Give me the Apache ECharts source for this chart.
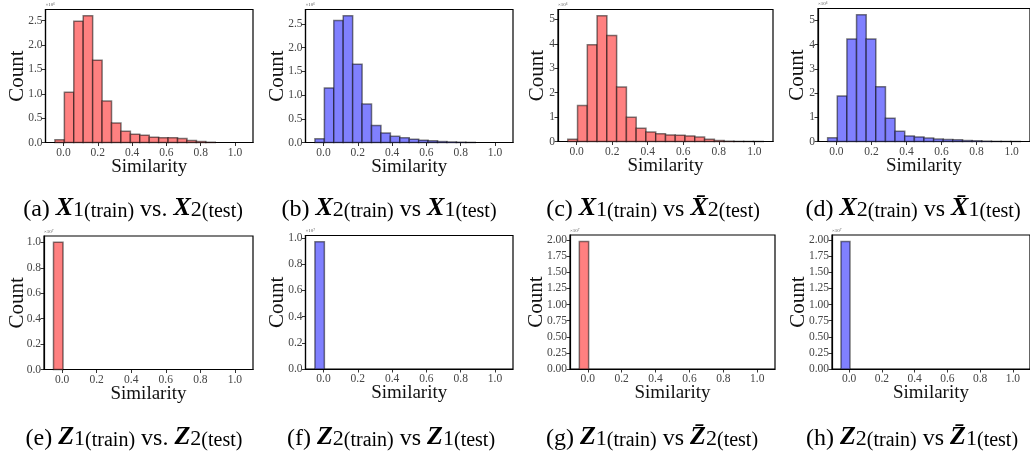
<!DOCTYPE html>
<html>
<head>
<meta charset="utf-8">
<script src="https://cdn.jsdelivr.net/npm/echarts@6/dist/echarts.min.js"></script>
<style>html,body{margin:0;padding:0;background:#fff}#c{width:1030px;height:452px}</style>
</head>
<body>
<div id="c"></div>
<script>
// 20 histogram bins over [-0.05, 1.05]
const binEdges = [-0.05,0.005,0.06,0.115,0.17,0.225,0.28,0.335,0.39,0.445,0.5,0.555,0.61,0.665,0.72,0.775,0.83,0.885,0.94,0.995,1.05];
const countsA = [0.055,1.03,2.49,2.60,1.69,0.85,0.40,0.23,0.17,0.15,0.11,0.10,0.10,0.08,0.04,0.02,0.005,0,0,0];
const countsB = [0.077,1.15,2.57,2.67,1.65,0.81,0.36,0.20,0.13,0.10,0.07,0.05,0.035,0.02,0.012,0.006,0.002,0,0,0];
const countsC = [0.09,1.47,3.96,5.15,4.34,2.23,0.99,0.54,0.39,0.32,0.27,0.26,0.23,0.18,0.09,0.04,0.013,0.005,0.003,0.002];
const countsD = [0.15,1.88,4.23,5.23,4.23,2.26,0.96,0.42,0.23,0.19,0.14,0.10,0.08,0.07,0.04,0.03,0.015,0.005,0.003,0.002];
const countsE = [1.0,0,0,0,0,0,0,0,0,0,0,0,0,0,0,0,0,0,0,0];
const countsF = [0.97,0,0,0,0,0,0,0,0,0,0,0,0,0,0,0,0,0,0,0];
const countsG = [1.98,0,0,0,0,0,0,0,0,0,0,0,0,0,0,0,0,0,0,0];
const countsH = [1.98,0,0,0,0,0,0,0,0,0,0,0,0,0,0,0,0,0,0,0];

const xTicks = [0,0.2,0.4,0.6,0.8,1.0];
const yTicksAB = [0,0.5,1.0,1.5,2.0,2.5];
const yTicksCD = [0,1,2,3,4,5];
const yTicksEF = [0,0.2,0.4,0.6,0.8,1.0];
const yTicksGH = [0,0.25,0.5,0.75,1.0,1.25,1.5,1.75,2.0];

const RED = '#ff8080', BLUE = '#8080ff';
const SERIF = "'Liberation Serif', 'DejaVu Serif', serif";

const panels = [
  {counts:countsA, color:RED,  yTicks:yTicksAB, dec:1, exp:'×10⁶', g:{left:45.5,top:9.5,width:207.5,height:133}, countX:17, cap:['a','X','1','vs.','X','2'], capX:133, capY:208},
  {counts:countsB, color:BLUE, yTicks:yTicksAB, dec:1, exp:'×10⁶', g:{left:305.5,top:9.5,width:207.5,height:133}, countX:277, cap:['b','X','2','vs','X','1'], capX:389, capY:208},
  {counts:countsC, color:RED,  yTicks:yTicksCD, dec:0, exp:'×10⁶', g:{left:558,top:9.5,width:215,height:132}, countX:537, cap:['c','X','1','vs','X\u0304','2'], capX:653, capY:208},
  {counts:countsD, color:BLUE, yTicks:yTicksCD, dec:0, exp:'×10⁶', g:{left:818,top:8.5,width:221,height:133}, countX:797, cap:['d','X','2','vs','X\u0304','1'], capX:913, capY:208},
  {counts:countsE, color:RED,  yTicks:yTicksEF, dec:1, exp:'×10⁷', g:{left:44,top:236,width:209,height:133.5}, countX:17, cap:['e','Z','1','vs.','Z','2'], capX:134, capY:437},
  {counts:countsF, color:BLUE, yTicks:yTicksEF, dec:1, exp:'×10⁷', g:{left:305.5,top:235.5,width:207.5,height:133.5}, countX:277, cap:['f','Z','2','vs','Z','1'], capX:391, capY:437},
  {counts:countsG, color:RED,  yTicks:yTicksGH, dec:2, exp:'×10⁷', g:{left:570,top:235,width:205,height:134}, countX:536, cap:['g','Z','1','vs','Z\u0304','2'], capX:652, capY:437},
  {counts:countsH, color:BLUE, yTicks:yTicksGH, dec:2, exp:'×10⁷', g:{left:832,top:235,width:202,height:134}, countX:798, cap:['h','Z','2','vs','Z\u0304','1'], capX:912, capY:437}
];

const grid = [], xAxis = [], yAxis = [], series = [], graphic = [];
const tickLabel = {fontFamily:SERIF, fontSize:11.5, color:'#444'};

panels.forEach((p, i) => {
  grid.push(Object.assign({show:true, borderColor:'#000', borderWidth:1.2, backgroundColor:'transparent'}, p.g));
  xAxis.push({
    type:'value', gridIndex:i, min:-0.105, max:1.105,
    name:'Similarity', nameLocation:'middle', nameGap:15, nameMoveOverlap:false,
    nameTextStyle:{fontFamily:SERIF, fontSize:19, color:'#111'},
    axisLine:{show:true, onZero:false, lineStyle:{color:'#000', width:1.2}},
    axisTick:{show:true, inside:false, length:3.5, lineStyle:{color:'#000', width:0.8}, customValues:xTicks},
    axisLabel:Object.assign({margin:4, customValues:xTicks, formatter:v=>v.toFixed(1)}, tickLabel),
    splitLine:{show:false}
  });
  const ymax = Math.max(...p.counts) * 1.05;
  yAxis.push({
    type:'value', gridIndex:i, min:0, max:ymax,
    name:'Count', nameLocation:'middle', nameGap:p.g.left - p.countX - 11, nameRotate:90, nameMoveOverlap:false,
    nameTextStyle:{fontFamily:SERIF, fontSize:21, color:'#111'},
    axisLine:{show:true, onZero:false, lineStyle:{color:'#000', width:1.2}},
    axisTick:{show:true, inside:false, length:3.5, lineStyle:{color:'#000', width:0.8}, customValues:p.yTicks},
    axisLabel:Object.assign({margin:3, customValues:p.yTicks, formatter:v=>v.toFixed(p.dec)}, tickLabel),
    splitLine:{show:false}
  });
  const data = p.counts.map((c, k) => [binEdges[k], binEdges[k+1], c]);
  series.push({
    type:'custom', xAxisIndex:i, yAxisIndex:i, data:data,
    encode:{x:[0,1], y:2},
    clip:false,
    renderItem:(params, api) => {
      const c = api.value(2);
      if (!(c > 0)) return null;
      const p0 = api.coord([api.value(0), c]);
      const p1 = api.coord([api.value(1), 0]);
      return {type:'rect', shape:{x:p0[0], y:p0[1], width:p1[0]-p0[0], height:p1[1]-p0[1]},
        style:{fill:p.color, stroke:'rgba(0,0,0,0.5)', lineWidth:1.5}};
    }
  });
  graphic.push({type:'text', left:p.g.left, top:p.g.top - 7, style:{text:p.exp, font:'5px '+SERIF, fill:'#555'}});
  const c = p.cap;
  graphic.push({
    type:'text', x:p.capX, y:p.capY,
    style:{
      text:'{n|('+c[0]+') }{m|'+c[1]+'}{s|'+c[2]+'}{t|(train)}{n| '+c[3]+' }{m|'+c[4]+'}{s|'+c[5]+'}{t|(test)}',
      align:'center', verticalAlign:'middle',
      rich:{
        n:{fontFamily:SERIF, fontSize:24, fill:'#000', verticalAlign:'bottom', lineHeight:27},
        m:{fontFamily:SERIF, fontSize:26, fontWeight:'bold', fontStyle:'italic', fill:'#000', verticalAlign:'bottom', lineHeight:27},
        s:{fontFamily:SERIF, fontSize:22, fill:'#000', verticalAlign:'bottom', lineHeight:24},
        t:{fontFamily:SERIF, fontSize:20, fill:'#000', verticalAlign:'bottom', lineHeight:23}
      }
    }
  });
});

const chart = echarts.init(document.getElementById('c'), null, {renderer:'canvas'});
chart.setOption({animation:false, backgroundColor:'#fff', grid, xAxis, yAxis, series, graphic});
</script>
</body>
</html>
